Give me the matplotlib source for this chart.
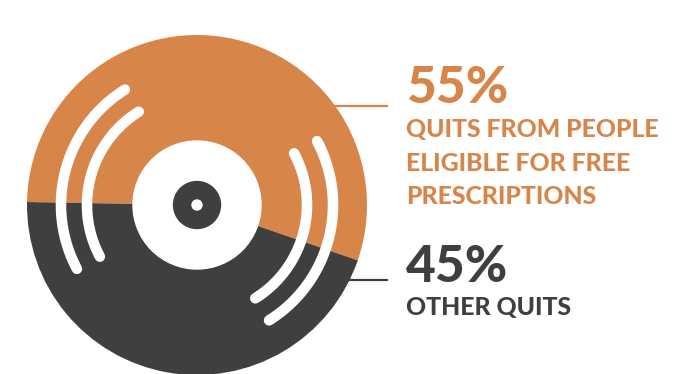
import numpy as np
import matplotlib
matplotlib.use("Agg")
import matplotlib.pyplot as plt
from matplotlib.patches import Circle

# Share of quits
values = [55, 45]
headlines = [["QUITS FROM PEOPLE", "ELIGIBLE FOR FREE", "PRESCRIPTIONS"],
             ["OTHER QUITS"]]
colors = ["#D8854A", "#3F3F3F"]

W, H = 697, 374
fig = plt.figure(figsize=(W / 100, H / 100), dpi=100)
ax = fig.add_axes([0, 0, 1, 1])

cx, cy, R = 197, 169, 170

# record body as a pie, orange slice centred near the top
mid = 80
start = mid - values[0] / 100 * 360 / 2
ax.pie(values, colors=colors, startangle=start, counterclock=True,
       center=(cx, cy), radius=R, wedgeprops=dict(linewidth=0))

# label, hub and spindle hole
ax.add_patch(Circle((cx, cy), 64, color="white", zorder=3))
ax.add_patch(Circle((cx, cy), 23.5, color=colors[1], zorder=4))
ax.add_patch(Circle((cx, cy), 5, color="white", zorder=5))

# grooves: two arcs on each side
for r in (110, 136):
    for a0, a1 in ((122, 208), (-58, 28)):
        t = np.radians(np.linspace(a0, a1, 100))
        ax.plot(cx + r * np.cos(t), cy + r * np.sin(t), color="white",
                lw=7.6, solid_capstyle="round", zorder=3)

# leader lines
ax.plot([300, 387], [268, 268], color=colors[0], lw=1.6, zorder=0)
ax.plot([300, 387], [94, 94], color=colors[1], lw=1.6, zorder=0)

font = "Lato"
tx = 406
big = dict(fontsize=37, fontweight=900, family=font, va="baseline", ha="left")
small = dict(fontsize=17.8, fontweight=900, family=font, va="baseline", ha="left")

ax.text(tx, H - 103, f"{values[0]}%", color=colors[0], **big)
for i, line in enumerate(headlines[0]):
    ax.text(tx, H - 137 - i * 33.5, line, color=colors[0], **small)

ax.text(tx, H - 282, f"{values[1]}%", color=colors[1], **big)
for i, line in enumerate(headlines[1]):
    ax.text(tx, H - 315 - i * 33.5, line, color=colors[1], **small)

ax.set_xlim(0, W)
ax.set_ylim(0, H)
ax.set_aspect("equal")
ax.axis("off")

fig.savefig("out.png", dpi=100)
